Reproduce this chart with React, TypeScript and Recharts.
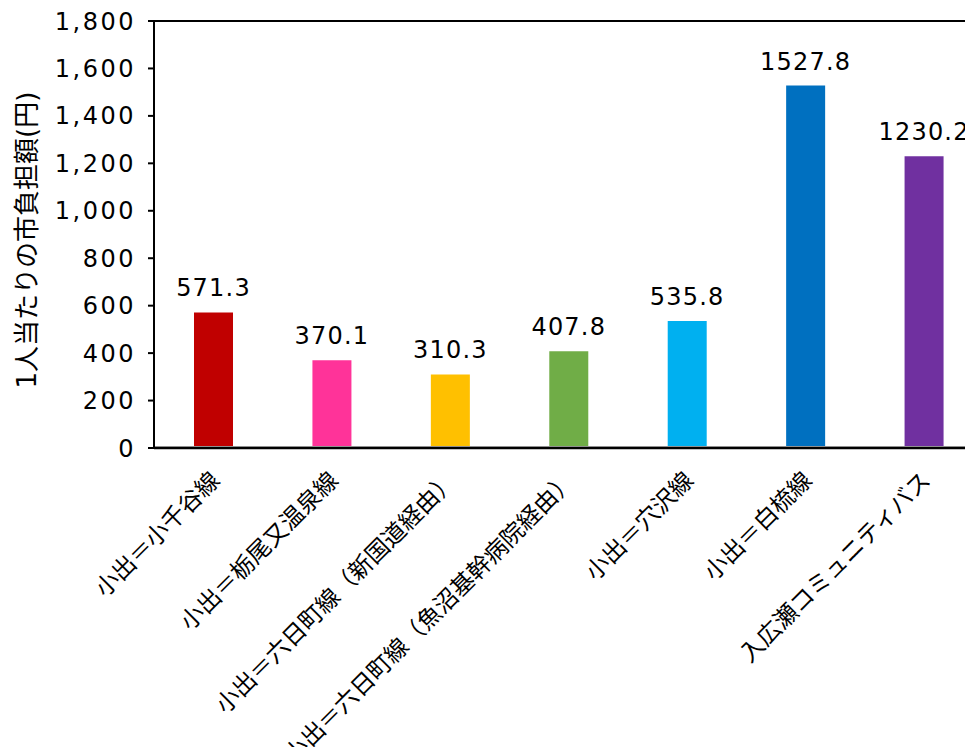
import React from 'react';
import { BarChart, Bar, XAxis, YAxis, LabelList, ReferenceLine, Cell } from 'recharts';

const categories = [
  '小出＝小千谷線',
  '小出＝栃尾又温泉線',
  '小出＝六日町線（新国道経由）',
  '小出＝六日町線（魚沼基幹病院経由）',
  '小出＝穴沢線',
  '小出＝白梳線',
  '入広瀬コミュニティバス',
];
const values = [571.3, 370.1, 310.3, 407.8, 535.8, 1527.8, 1230.2];
const colors = ['#C00000', '#FF3399', '#FFC000', '#70AD47', '#00B0F0', '#0070C0', '#7030A0'];
const yTicks = [0, 200, 400, 600, 800, 1000, 1200, 1400, 1600, 1800];
const yLabel = '1人当たりの市負担額(円)';

const data = categories.map((name, i) => ({ name, value: values[i] }));

const NUM_FONT = "'DejaVu Sans', 'Noto Sans CJK JP', sans-serif";
const JP_FONT = "'Noto Sans CJK JP', 'DejaVu Sans', sans-serif";

const CategoryTick = (props: any) => {
  const { x, y, payload } = props;
  return (
    <g transform={`translate(${x + 8},${y + 26})`}>
      <text
        transform="rotate(-45)"
        textAnchor="end"
        fontSize={23.5}
        fontFamily={JP_FONT}
        fill="#000"
      >
        {payload.value}
      </text>
    </g>
  );
};

const YLabel = () => (
  <text
    x={19}
    y={232}
    transform="rotate(-90, 19, 232)"
    textAnchor="middle"
    dominantBaseline="central"
    fontSize={26}
    fontFamily={NUM_FONT}
    fill="#000"
  >
    {yLabel}
  </text>
);

export default function App() {
  return (
    <div style={{ width: 965, height: 739, overflow: 'hidden' }}>
      <BarChart
        width={965}
        height={739}
        data={data}
        margin={{ top: 13, right: -10, bottom: 0, left: 0 }}
        barCategoryGap={0}
      >
        <XAxis
          dataKey="name"
          interval={0}
          height={299}
          axisLine={{ stroke: '#000', strokeWidth: 2.5 }}
          tickLine={false}
          tick={<CategoryTick />}
        />
        <YAxis
          width={146}
          domain={[0, 1800]}
          ticks={yTicks}
          interval={0}
          axisLine={{ stroke: '#000', strokeWidth: 2 }}
          tickLine={{ stroke: '#000', strokeWidth: 2 }}
          tickSize={6}
          tickMargin={12}
          tickFormatter={(v: number) => v.toLocaleString('en-US')}
          tick={{ fill: '#000', fontSize: 24, fontFamily: NUM_FONT, letterSpacing: 2.5 }}
          label={<YLabel />}
        />
        <ReferenceLine y={1800} stroke="#000" strokeWidth={2} ifOverflow="extendDomain" />
        <ReferenceLine y={0} stroke="#bfbfbf" strokeWidth={1} transform="translate(0,-1.5)" />
        <Bar dataKey="value" barSize={39} isAnimationActive={false}>
          {data.map((d, i) => (
            <Cell key={d.name} fill={colors[i]} />
          ))}
          <LabelList
            dataKey="value"
            position="top"
            offset={16}
            fill="#000"
            fontSize={24}
            fontFamily={NUM_FONT}
            style={{ letterSpacing: 1.2 }}
            formatter={(v: any) => Number(v).toFixed(1)}
          />
        </Bar>
      </BarChart>
    </div>
  );
}
